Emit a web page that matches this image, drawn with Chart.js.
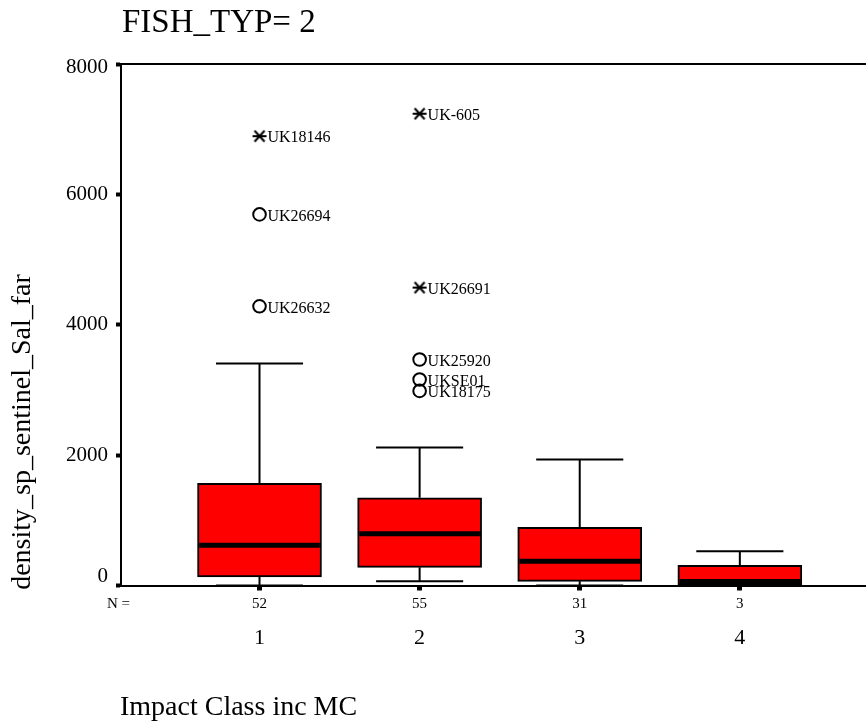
<!DOCTYPE html>
<html>
<head>
<meta charset="utf-8">
<script src="https://cdn.jsdelivr.net/npm/chart.js@4.4.1/dist/chart.umd.min.js"></script>
<style>
  html, body { margin: 0; padding: 0; background: #fff; overflow: hidden; }
  #wrap { position: relative; width: 866px; height: 722px; }
</style>
</head>
<body>
<div id="wrap"><canvas id="c"></canvas></div>
<script>
// ---- data ----
const chartTitle = 'FISH_TYP= 2';
const xTitle = 'Impact Class inc MC';
const yTitle = 'density_sp_sentinel_Sal_far';

const categories = ['1', '2', '3', '4'];
const nCounts = [52, 55, 31, 3];

const whiskerLow  = [0, 64, 0, 0];
const q1          = [130, 279, 64, 0];
const median      = [616, 794, 371, 61];
const q3          = [1566, 1346, 892, 310];
const whiskerHigh = [3405, 2118, 1934, 524];

const outlierCategory = ['1', '1', '1', '2', '2', '2', '2', '2'];
const outlierValue    = [6893, 5693, 4283, 7237, 4570, 3467, 3160, 2985];
const outlierId       = ['UK18146', 'UK26694', 'UK26632', 'UK-605', 'UK26691', 'UK25920', 'UKSE01', 'UK18175'];
const outlierExtreme  = [true, false, false, true, true, false, false, false];

const yTicks = [0, 2000, 4000, 6000, 8000];

// ---- styling ----
const SERIF = '"Liberation Serif", "Times New Roman", serif';
const BOX_HALF = 0.3885;   // half box width, in category units
const CAP_HALF = 0.272;    // half whisker-cap width
const xPos = c => categories.indexOf(c) + 1;

// asterisk glyph used for extreme values
function makeAsterisk() {
  const cv = document.createElement('canvas');
  cv.width = 16; cv.height = 16;
  const g = cv.getContext('2d');
  g.strokeStyle = '#000';
  g.lineWidth = 2;
  g.beginPath();
  g.moveTo(1, 8); g.lineTo(15, 8);
  g.moveTo(3, 2.5); g.lineTo(13, 13.5);
  g.moveTo(13, 2.5); g.lineTo(3, 13.5);
  g.stroke();
  return cv;
}
const asterisk = makeAsterisk();

// box outlines as floating bars
const boxData = categories.map((c, i) => ({ x: xPos(c), y: [q1[i], q3[i]] }));

// whiskers and caps as broken line segments
const whiskerData = [];
categories.forEach((c, i) => {
  const x = xPos(c);
  whiskerData.push({ x, y: q3[i] }, { x, y: whiskerHigh[i] }, { x, y: null });
  whiskerData.push({ x: x - CAP_HALF, y: whiskerHigh[i] }, { x: x + CAP_HALF, y: whiskerHigh[i] }, { x, y: null });
  whiskerData.push({ x, y: q1[i] }, { x, y: whiskerLow[i] }, { x, y: null });
  whiskerData.push({ x: x - CAP_HALF, y: whiskerLow[i] }, { x: x + CAP_HALF, y: whiskerLow[i] }, { x, y: null });
});

// median bars
const medianData = [];
categories.forEach((c, i) => {
  const x = xPos(c);
  medianData.push({ x: x - BOX_HALF + 0.012, y: median[i] }, { x: x + BOX_HALF - 0.012, y: median[i] }, { x, y: null });
});

const outlierData = outlierCategory.map((c, i) => ({ x: xPos(c), y: outlierValue[i] }));

// ---- extra text and frame ----
const annotate = {
  id: 'annotate',
  afterDraw(chart) {
    const { ctx, chartArea: a, scales: { x, y } } = chart;
    ctx.save();
    ctx.fillStyle = '#000';

    // top frame line
    ctx.strokeStyle = '#000';
    ctx.lineWidth = 2;
    ctx.beginPath();
    ctx.moveTo(a.left, a.top);
    ctx.lineTo(a.right, a.top);
    ctx.stroke();

    // title
    ctx.font = '33px ' + SERIF;
    ctx.textAlign = 'left';
    ctx.textBaseline = 'alphabetic';
    ctx.fillText(chartTitle, 122, 32);

    // y tick labels
    ctx.font = '21px ' + SERIF;
    ctx.textAlign = 'right';
    ctx.textBaseline = 'middle';
    yTicks.forEach(v => {
      let py = y.getPixelForValue(v);
      py = Math.min(Math.max(py, a.top + 3.5), a.bottom - 9.5);
      ctx.fillText(String(v), a.left - 13, py);
    });

    // counts row
    ctx.font = '15px ' + SERIF;
    ctx.textAlign = 'left';
    ctx.fillText('N =', 107, 604);
    ctx.textAlign = 'center';
    categories.forEach((c, i) => ctx.fillText(String(nCounts[i]), x.getPixelForValue(xPos(c)), 604));

    // category labels
    ctx.font = '22px ' + SERIF;
    categories.forEach(c => ctx.fillText(c, x.getPixelForValue(xPos(c)), 638));

    // outlier case labels
    ctx.font = '16px ' + SERIF;
    ctx.textAlign = 'left';
    ctx.textBaseline = 'alphabetic';
    outlierId.forEach((id, i) => {
      ctx.fillText(id, x.getPixelForValue(xPos(outlierCategory[i])) + 8,
                       y.getPixelForValue(outlierValue[i]) + 6.3);
    });

    // axis titles
    ctx.font = '28px ' + SERIF;
    ctx.textAlign = 'left';
    ctx.fillText(xTitle, 120, 715);

    ctx.translate(30, 432);
    ctx.rotate(-Math.PI / 2);
    ctx.textAlign = 'center';
    ctx.fillText(yTitle, 0, 0);
    ctx.restore();
  }
};

new Chart(document.getElementById('c'), {
  type: 'bar',
  data: {
    datasets: [
      {
        type: 'bar',
        data: boxData,
        backgroundColor: '#ff0000',
        borderColor: '#000',
        borderWidth: 2,
        borderSkipped: false,
        barThickness: 124,
        grouped: false,
        order: 2
      },
      {
        type: 'line',
        data: whiskerData,
        borderColor: '#000',
        borderWidth: 2,
        pointRadius: 0,
        spanGaps: false,
        tension: 0,
        clip: false,
        order: 3
      },
      {
        type: 'line',
        data: medianData,
        borderColor: '#000',
        borderWidth: 5,
        borderCapStyle: 'butt',
        pointRadius: 0,
        spanGaps: false,
        tension: 0,
        clip: false,
        order: 1
      },
      {
        type: 'line',
        data: outlierData,
        showLine: false,
        pointStyle: ctx => (outlierExtreme[ctx.dataIndex] ? asterisk : 'circle'),
        pointRadius: 6.3,
        pointBorderWidth: 2,
        pointBorderColor: '#000',
        pointBackgroundColor: 'rgba(0,0,0,0)',
        clip: false,
        order: 0
      }
    ]
  },
  options: {
    responsive: true,
    maintainAspectRatio: false,
    devicePixelRatio: 1,
    animation: false,
    events: [],
    layout: { autoPadding: false, padding: { left: 0, right: 0, top: 64, bottom: 0 } },
    plugins: { legend: { display: false }, tooltip: { enabled: false }, title: { display: false } },
    scales: {
      x: {
        type: 'linear',
        min: 0.1349,
        max: 4.788,
        offset: false,
        afterBuildTicks: s => { s.ticks = categories.map(c => ({ value: xPos(c) })); },
        afterFit: s => { s.height = 136.5; },
        ticks: { display: false },
        grid: { display: true, offset: false, drawOnChartArea: false, drawTicks: true, tickLength: 5, tickWidth: 5, tickColor: '#000', color: '#000' },
        border: { display: true, color: '#000', width: 2 }
      },
      y: {
        type: 'linear',
        min: 0,
        max: 8000,
        afterBuildTicks: s => { s.ticks = yTicks.map(v => ({ value: v })); },
        afterFit: s => { s.width = 121; },
        ticks: { display: false },
        grid: { display: true, drawOnChartArea: false, drawTicks: true, tickLength: 5, tickWidth: 4, tickColor: '#000', color: '#000' },
        border: { display: true, color: '#000', width: 2 }
      }
    }
  },
  plugins: [annotate]
});
</script>
</body>
</html>
